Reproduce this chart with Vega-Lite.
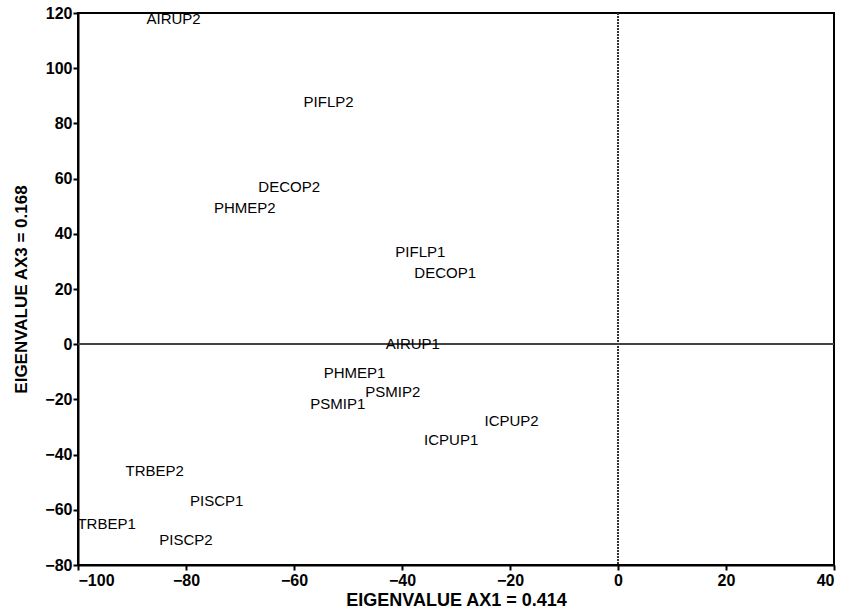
{
  "$schema": "https://vega.github.io/schema/vega-lite/v6.json",
  "width": 756,
  "height": 552,
  "autosize": {"type": "none"},
  "padding": {"left": 78, "top": 13, "right": 13, "bottom": 51},
  "background": "white",
  "config": {
    "view": {"stroke": "black", "strokeWidth": 2},
    "font": "Liberation Sans",
    "axis": {
      "grid": false,
      "domainColor": "black",
      "domainWidth": 2,
      "tickColor": "black",
      "tickWidth": 2,
      "tickSize": 5,
      "labelColor": "black",
      "labelFont": "Liberation Sans",
      "labelFontSize": 16,
      "labelFontWeight": "bold",
      "titleColor": "black",
      "titleFont": "Liberation Sans",
      "titleFontWeight": "bold"
    }
  },
  "data": {
    "values": [
      {"label": "AIRUP2", "ax1": -82.3, "ax3": 117.8},
      {"label": "PIFLP2", "ax1": -53.6, "ax3": 87.8},
      {"label": "DECOP2", "ax1": -60.9, "ax3": 56.9},
      {"label": "PHMEP2", "ax1": -69.1, "ax3": 49.3},
      {"label": "PIFLP1", "ax1": -36.6, "ax3": 33.4},
      {"label": "DECOP1", "ax1": -32.0, "ax3": 25.8},
      {"label": "AIRUP1", "ax1": -38.0, "ax3": 0.0},
      {"label": "PHMEP1", "ax1": -48.8, "ax3": -10.6},
      {"label": "PSMIP2", "ax1": -41.7, "ax3": -17.3},
      {"label": "PSMIP1", "ax1": -51.9, "ax3": -21.5},
      {"label": "ICPUP2", "ax1": -19.7, "ax3": -27.9},
      {"label": "ICPUP1", "ax1": -30.9, "ax3": -34.8},
      {"label": "TRBEP2", "ax1": -85.8, "ax3": -46.0},
      {"label": "PISCP1", "ax1": -74.3, "ax3": -56.9},
      {"label": "TRBEP1", "ax1": -94.7, "ax3": -65.0},
      {"label": "PISCP2", "ax1": -80.0, "ax3": -71.0}
    ]
  },
  "layer": [
    {
      "mark": {"type": "rule", "color": "#333333", "strokeWidth": 1.2, "strokeDash": [2, 1]},
      "encoding": {"x": {"datum": 0, "type": "quantitative"}}
    },
    {
      "mark": {"type": "rule", "color": "#444444", "strokeWidth": 1.2},
      "encoding": {"y": {"datum": 0, "type": "quantitative"}}
    },
    {
      "mark": {"type": "text", "fontSize": 15, "font": "Liberation Sans", "color": "black", "align": "center", "baseline": "middle"},
      "encoding": {
        "x": {
          "field": "ax1", "type": "quantitative",
          "scale": {"domain": [-100, 40], "nice": false, "zero": false},
          "axis": {"values": [-100, -80, -60, -40, -20, 0, 20, 40], "title": "EIGENVALUE AX1 = 0.414", "titleFontSize": 18, "titlePadding": 3, "labelPadding": 2}
        },
        "y": {
          "field": "ax3", "type": "quantitative",
          "scale": {"domain": [-80, 120], "nice": false, "zero": false},
          "axis": {"values": [-80, -60, -40, -20, 0, 20, 40, 60, 80, 100, 120], "title": "EIGENVALUE AX3 = 0.168", "titleFontSize": 17, "titlePadding": 14, "labelPadding": 1}
        },
        "text": {"field": "label"}
      }
    }
  ]
}
